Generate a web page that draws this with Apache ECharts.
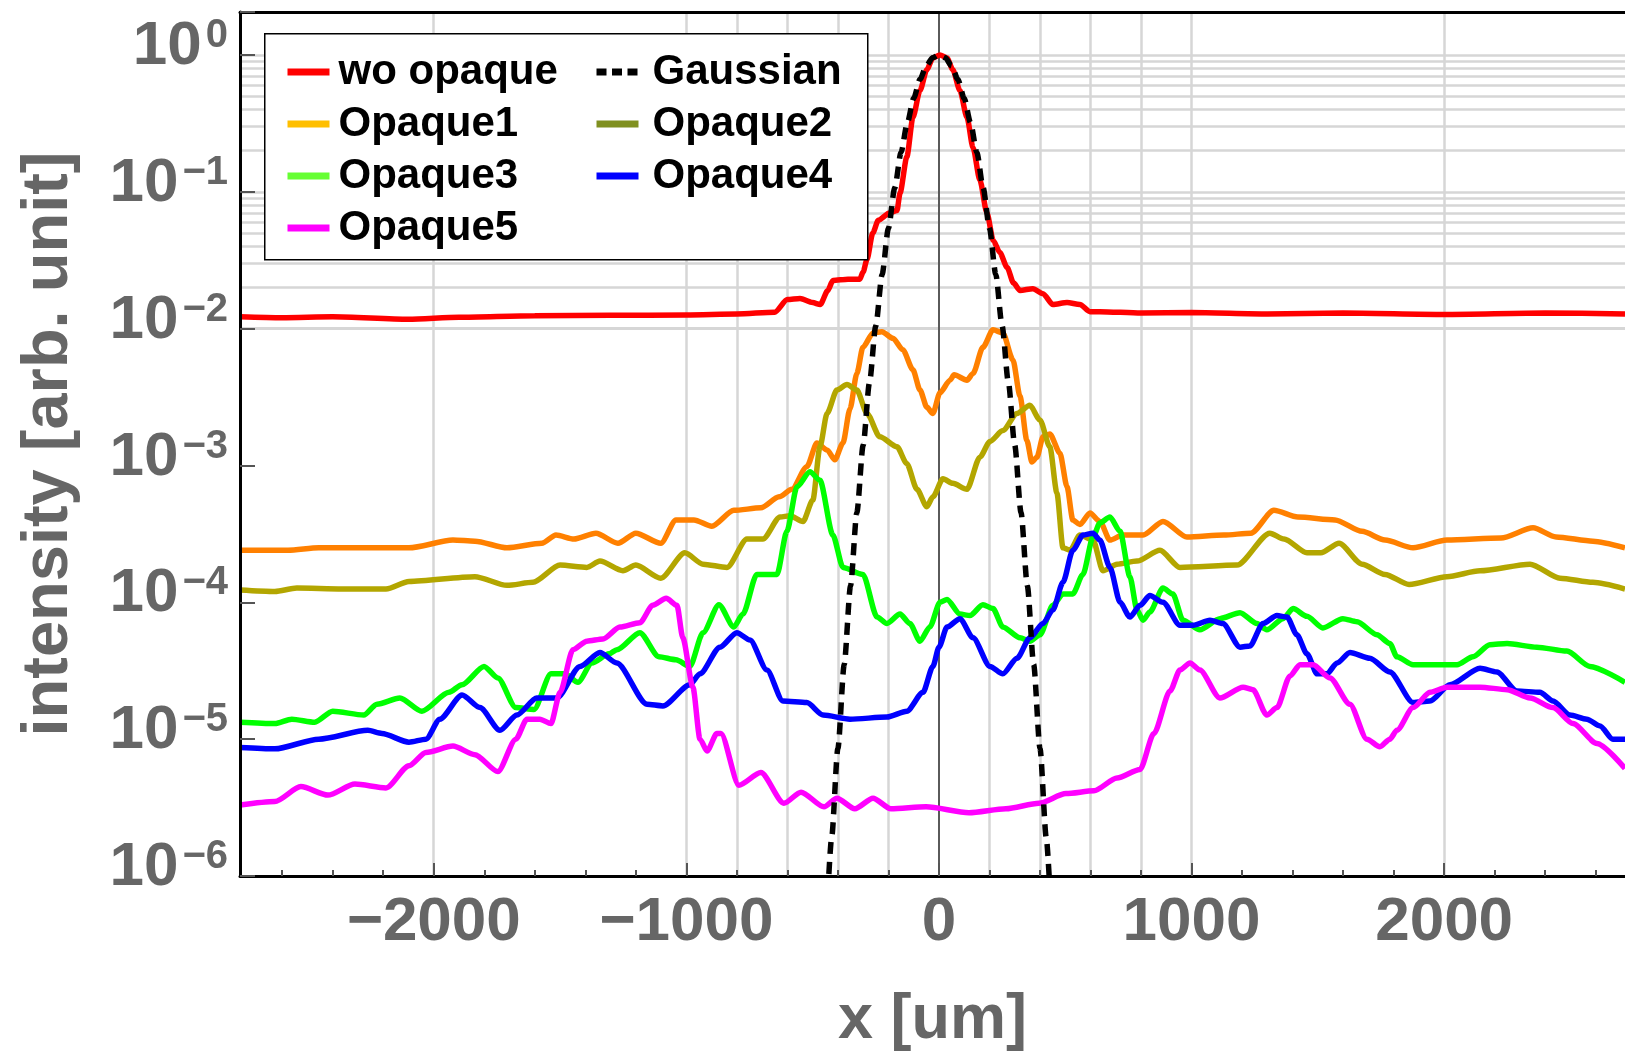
<!DOCTYPE html>
<html lang="en">
<head>
    <meta charset="UTF-8">
    <title>Intensity profiles</title>
    <script src="https://cdn.jsdelivr.net/npm/echarts/dist/echarts.min.js"></script>
    <style>
        body { margin: 0; background: #fff; }
        #chart { width: 1625px; height: 1057px; }
    </style>
</head>
<body>
    <div id="chart"></div>

    <script>
        // axis ranges and ticks
        const xRange = [-2767, 2716];
        const yRange = [1e-6, 2.06];
        const xMajorTicks = [-2000, -1000, 0, 1000, 2000];
        const xMinorTicks = [-2600, -2400, -2200, -2000, -1800, -1600, -1400, -1200, -1000, -800, -600, -400, -200,
            0, 200, 400, 600, 800, 1000, 1200, 1400, 1600, 1800, 2000, 2200, 2400, 2600];
        const xGridLines = [-2000, -1000, -800, -600, -400, -200, 200, 400, 600, 800, 1000, 2000];
        const yGridDecades = [1e-5, 1e-4, 1e-3, 1e-2, 1e-1];
        const yGridMantissas = [1, 2, 3, 4, 5, 6, 7, 8, 9];

        // [x (um), intensity]
        const woOpaque = [[-2767, 0.0122], [-2600, 0.0120], [-2400, 0.0122], [-2100, 0.0117], [-1900, 0.0121],
            [-1600, 0.0124], [-1300, 0.0125], [-1000, 0.0126], [-800, 0.0128], [-650, 0.0132], [-600, 0.0163],
            [-550, 0.0166], [-500, 0.0155], [-470, 0.015], [-440, 0.019], [-420, 0.0225], [-360, 0.023],
            [-313, 0.023], [-300, 0.026], [-285, 0.032], [-262, 0.05], [-240, 0.062], [-196, 0.07], [-166, 0.073],
            [-154, 0.098], [-127, 0.18], [-103, 0.35], [-75, 0.55], [-48, 0.78], [-24, 0.95], [4, 1.0], [32, 0.95],
            [55, 0.78], [83, 0.55], [111, 0.35], [135, 0.21], [162, 0.122], [190, 0.07], [215, 0.044], [241, 0.036],
            [270, 0.028], [295, 0.0216], [321, 0.019], [372, 0.0196], [412, 0.018], [451, 0.015], [507, 0.0155],
            [558, 0.015], [598, 0.0133], [637, 0.0133], [800, 0.013], [1000, 0.0131], [1300, 0.0128],
            [1600, 0.013], [2000, 0.0127], [2400, 0.013], [2716, 0.0128]];

        const opaque1 = [[-2767, 2.4e-4], [-2577, 2.4e-4], [-2455, 2.5e-4], [-2098, 2.5e-4], [-1924, 2.85e-4],
            [-1837, 2.8e-4], [-1710, 2.5e-4], [-1572, 2.7e-4], [-1516, 3.1e-4], [-1445, 2.9e-4], [-1358, 3.2e-4],
            [-1271, 2.7e-4], [-1200, 3.2e-4], [-1101, 2.7e-4], [-1041, 4.0e-4], [-970, 4.0e-4], [-899, 3.6e-4],
            [-812, 4.7e-4], [-705, 4.9e-4], [-633, 5.9e-4], [-582, 6.7e-4], [-523, 9.8e-4], [-483, 1.46e-3],
            [-443, 1.3e-3], [-412, 1.1e-3], [-380, 1.46e-3], [-352, 2.6e-3], [-325, 4.7e-3], [-301, 7.3e-3],
            [-261, 9.3e-3], [-226, 9.5e-3], [-182, 8.5e-3], [-143, 7.0e-3], [-103, 5.0e-3], [-75, 3.56e-3],
            [-48, 2.67e-3], [-24, 2.4e-3], [4, 3.4e-3], [44, 4.2e-3], [60, 4.6e-3], [111, 4.2e-3], [135, 4.7e-3],
            [174, 7.3e-3], [214, 9.8e-3], [253, 9.3e-3], [293, 5.9e-3], [321, 3.2e-3], [348, 1.53e-3],
            [368, 1.06e-3], [388, 1.15e-3], [412, 1.62e-3], [439, 1.7e-3], [479, 1.23e-3], [507, 7.0e-4],
            [530, 4.0e-4], [558, 3.7e-4], [598, 4.5e-4], [637, 3.9e-4], [677, 2.85e-4], [728, 3.1e-4],
            [808, 3.1e-4], [887, 3.9e-4], [982, 3.0e-4], [1128, 3.1e-4], [1235, 3.2e-4], [1326, 4.7e-4],
            [1421, 4.2e-4], [1568, 4.0e-4], [1675, 3.3e-4], [1766, 2.85e-4], [1877, 2.5e-4], [2011, 2.85e-4],
            [2225, 2.95e-4], [2352, 3.5e-4], [2443, 3.0e-4], [2589, 2.8e-4], [2716, 2.5e-4]];

        const opaque2 = [[-2767, 1.23e-4], [-2629, 1.2e-4], [-2542, 1.27e-4], [-2364, 1.25e-4], [-2189, 1.25e-4],
            [-2098, 1.42e-4], [-1837, 1.54e-4], [-1710, 1.33e-4], [-1607, 1.4e-4], [-1500, 1.87e-4],
            [-1394, 1.8e-4], [-1342, 2.0e-4], [-1251, 1.7e-4], [-1200, 1.87e-4], [-1101, 1.5e-4], [-1006, 2.3e-4],
            [-934, 1.9e-4], [-839, 1.8e-4], [-760, 2.9e-4], [-697, 2.9e-4], [-629, 4.2e-4], [-590, 4.3e-4],
            [-538, 3.9e-4], [-499, 5.6e-4], [-471, 1.37e-3], [-443, 2.4e-3], [-404, 3.56e-3], [-364, 3.9e-3],
            [-325, 3.56e-3], [-285, 2.4e-3], [-234, 1.62e-3], [-166, 1.37e-3], [-127, 1.03e-3], [-87, 6.7e-4],
            [-48, 5.0e-4], [-24, 5.9e-4], [16, 8.0e-4], [55, 7.4e-4], [111, 6.7e-4], [162, 1.15e-3],
            [202, 1.5e-3], [253, 1.8e-3], [309, 2.4e-3], [360, 2.75e-3], [400, 2.15e-3], [439, 1.37e-3],
            [467, 6.3e-4], [491, 2.5e-4], [519, 2.4e-4], [558, 3.1e-4], [610, 2.85e-4], [649, 1.7e-4],
            [705, 1.9e-4], [784, 2.0e-4], [875, 2.4e-4], [954, 1.8e-4], [1180, 1.87e-4], [1310, 3.2e-4],
            [1366, 2.9e-4], [1457, 2.3e-4], [1512, 2.3e-4], [1584, 2.7e-4], [1675, 1.9e-4], [1766, 1.6e-4],
            [1861, 1.35e-4], [2011, 1.54e-4], [2142, 1.7e-4], [2340, 1.9e-4], [2459, 1.5e-4], [2589, 1.4e-4],
            [2716, 1.25e-4]];

        const opaque3 = [[-2767, 1.33e-5], [-2629, 1.3e-5], [-2562, 1.4e-5], [-2471, 1.33e-5], [-2400, 1.6e-5],
            [-2277, 1.5e-5], [-2225, 1.8e-5], [-2134, 2.0e-5], [-2047, 1.6e-5], [-1940, 2.2e-5], [-1888, 2.5e-5],
            [-1801, 3.4e-5], [-1746, 2.8e-5], [-1675, 1.7e-5], [-1603, 1.65e-5], [-1536, 3.0e-5], [-1481, 3.0e-5],
            [-1429, 2.6e-5], [-1374, 3.6e-5], [-1306, 4.2e-5], [-1275, 4.5e-5], [-1184, 6.0e-5], [-1109, 4.0e-5],
            [-1041, 3.8e-5], [-986, 3.4e-5], [-934, 6.0e-5], [-871, 9.6e-5], [-812, 6.6e-5], [-776, 8.2e-5],
            [-721, 1.6e-4], [-641, 1.6e-4], [-602, 3.3e-4], [-562, 7.0e-4], [-511, 9.0e-4], [-471, 7.8e-4],
            [-420, 3.1e-4], [-380, 1.8e-4], [-301, 1.6e-4], [-245, 7.8e-5], [-206, 7.0e-5], [-154, 8.2e-5],
            [-115, 7.0e-5], [-75, 5.2e-5], [-36, 6.6e-5], [4, 1.0e-4], [32, 1.05e-4], [83, 8.2e-5], [123, 8.0e-5],
            [174, 9.6e-5], [214, 9.0e-5], [253, 6.6e-5], [321, 5.5e-5], [360, 5.2e-5], [400, 5.8e-5],
            [451, 9.5e-5], [491, 1.15e-4], [530, 1.15e-4], [570, 1.6e-4], [610, 3.0e-4], [637, 3.8e-4],
            [677, 4.2e-4], [717, 3.3e-4], [756, 1.54e-4], [784, 8.8e-5], [808, 7.4e-5], [835, 8.5e-5],
            [887, 1.27e-4], [926, 1.15e-4], [966, 7.4e-5], [1033, 6.3e-5], [1112, 7.6e-5], [1192, 8.4e-5],
            [1259, 7.0e-5], [1298, 6.3e-5], [1362, 7.6e-5], [1402, 9.0e-5], [1457, 7.9e-5], [1520, 6.5e-5],
            [1599, 7.6e-5], [1655, 7.2e-5], [1734, 5.8e-5], [1785, 5.0e-5], [1813, 4.0e-5], [1877, 3.5e-5],
            [2051, 3.5e-5], [2114, 4.0e-5], [2181, 4.9e-5], [2249, 5.0e-5], [2367, 4.7e-5], [2486, 4.4e-5],
            [2577, 3.4e-5], [2716, 2.6e-5]];

        const opaque4 = [[-2767, 8.7e-6], [-2629, 8.5e-6], [-2455, 1.0e-5], [-2261, 1.16e-5], [-2205, 1.1e-5],
            [-2098, 9.5e-6], [-2031, 1.0e-5], [-1976, 1.4e-5], [-1888, 2.1e-5], [-1817, 1.7e-5], [-1738, 1.16e-5],
            [-1671, 1.5e-5], [-1592, 2.0e-5], [-1512, 2.0e-5], [-1421, 3.4e-5], [-1342, 4.3e-5], [-1275, 3.6e-5],
            [-1156, 1.8e-5], [-1093, 1.75e-5], [-986, 2.5e-5], [-946, 3.0e-5], [-867, 4.7e-5], [-800, 6.0e-5],
            [-748, 5.3e-5], [-681, 3.2e-5], [-618, 1.9e-5], [-523, 1.85e-5], [-459, 1.5e-5], [-352, 1.4e-5],
            [-206, 1.45e-5], [-127, 1.6e-5], [-63, 2.2e-5], [-24, 3.4e-5], [0, 4.7e-5], [32, 6.6e-5],
            [83, 7.6e-5], [135, 5.5e-5], [202, 3.4e-5], [253, 3.0e-5], [309, 3.9e-5], [360, 5.5e-5],
            [412, 7.0e-5], [451, 8.8e-5], [491, 1.4e-4], [530, 2.4e-4], [570, 3.1e-4], [610, 3.2e-4],
            [637, 2.85e-4], [677, 1.8e-4], [717, 1.0e-4], [756, 7.8e-5], [796, 9.5e-5], [835, 1.12e-4],
            [887, 1.0e-4], [954, 6.8e-5], [1006, 6.8e-5], [1073, 7.4e-5], [1124, 7.0e-5], [1192, 4.7e-5],
            [1231, 4.8e-5], [1283, 7.0e-5], [1338, 8.0e-5], [1378, 7.8e-5], [1417, 5.8e-5], [1457, 4.2e-5],
            [1497, 3.0e-5], [1536, 3.0e-5], [1576, 3.6e-5], [1627, 4.3e-5], [1706, 3.9e-5], [1785, 3.1e-5],
            [1877, 1.85e-5], [1944, 1.9e-5], [2023, 2.5e-5], [2142, 3.3e-5], [2209, 3.1e-5], [2288, 2.25e-5],
            [2379, 2.2e-5], [2431, 1.9e-5], [2498, 1.5e-5], [2565, 1.4e-5], [2617, 1.25e-5], [2668, 1.0e-5],
            [2716, 1.0e-5]];

        const opaque5 = [[-2767, 3.3e-6], [-2629, 3.5e-6], [-2526, 4.5e-6], [-2419, 3.9e-6], [-2312, 4.7e-6],
            [-2189, 4.4e-6], [-2098, 6.4e-6], [-2031, 8.0e-6], [-1924, 8.9e-6], [-1837, 7.7e-6], [-1746, 5.8e-6],
            [-1675, 1.0e-5], [-1631, 1.4e-5], [-1580, 1.4e-5], [-1536, 1.3e-5], [-1500, 2.2e-5], [-1449, 4.5e-5],
            [-1394, 5.2e-5], [-1330, 5.4e-5], [-1263, 6.6e-5], [-1184, 7.1e-5], [-1133, 9.5e-5], [-1080, 1.07e-4],
            [-1037, 9.5e-5], [-1014, 5.5e-5], [-974, 2.4e-5], [-946, 1.0e-5], [-918, 8.2e-6], [-879, 1.1e-5],
            [-863, 1.1e-5], [-792, 4.6e-6], [-705, 5.7e-6], [-614, 3.4e-6], [-546, 4.1e-6], [-455, 3.2e-6],
            [-404, 3.7e-6], [-333, 3.1e-6], [-261, 3.7e-6], [-190, 3.1e-6], [-51, 3.2e-6], [119, 2.9e-6],
            [265, 3.1e-6], [396, 3.4e-6], [503, 4.0e-6], [614, 4.2e-6], [705, 5.2e-6], [796, 6.0e-6],
            [851, 1.1e-5], [915, 2.25e-5], [954, 3.2e-5], [994, 3.6e-5], [1033, 3.2e-5], [1112, 2.0e-5],
            [1204, 2.4e-5], [1243, 2.3e-5], [1298, 1.5e-5], [1338, 1.7e-5], [1390, 2.9e-5], [1429, 3.5e-5],
            [1481, 3.5e-5], [1548, 2.8e-5], [1627, 1.8e-5], [1694, 1.0e-5], [1746, 8.8e-6], [1785, 1.0e-5],
            [1813, 1.16e-5], [1877, 1.7e-5], [1944, 2.2e-5], [2011, 2.4e-5], [2142, 2.4e-5], [2249, 2.3e-5],
            [2340, 2.0e-5], [2431, 1.7e-5], [2510, 1.3e-5], [2605, 9.3e-6], [2716, 6.1e-6]];

        const gaussian = [[-440, 7.4e-7], [-425, 1.9e-6], [-400, 8.56e-6], [-375, 3.52e-5], [-350, 1.32e-4],
            [-325, 4.52e-4], [-300, 1.41e-3], [-275, 4.03e-3], [-250, 1.05e-2], [-225, 2.49e-2], [-200, 5.41e-2],
            [-175, 0.107], [-150, 0.194], [-125, 0.32], [-100, 0.482], [-75, 0.663], [-50, 0.833], [-25, 0.955],
            [0, 1.0], [25, 0.955], [50, 0.833], [75, 0.663], [100, 0.482], [125, 0.32], [150, 0.194],
            [175, 0.107], [200, 5.41e-2], [225, 2.49e-2], [250, 1.05e-2], [275, 4.03e-3], [300, 1.41e-3],
            [325, 4.52e-4], [350, 1.32e-4], [375, 3.52e-5], [400, 8.56e-6], [425, 1.9e-6], [440, 7.4e-7]];

        const seriesNames = ['wo opaque', 'Opaque1', 'Opaque2', 'Opaque3', 'Opaque4', 'Opaque5', 'Gaussian'];
        const seriesData = [woOpaque, opaque1, opaque2, opaque3, opaque4, opaque5, gaussian];
        const seriesColors = ['#ff0000', '#ff8000', '#b3a600', '#00ff00', '#0000ff', '#ff00ff', '#000000'];

        const FONT = '"Liberation Sans", Arial, sans-serif';
        const LABEL_GRAY = '#666';
        const GRID_GRAY = '#d6d6d6';

        const yGridLines = [];
        yGridDecades.forEach(d => yGridMantissas.forEach(m => yGridLines.push(m * d)));
        yGridLines.push(1);

        const gridMarks = yGridLines.map(v => ({ yAxis: v }))
            .concat(xGridLines.map(v => ({ xAxis: v })))
            .concat([{ xAxis: 0, lineStyle: { color: '#5a5a5a', width: 2 } }]);

        const series = seriesNames.map((name, i) => {
            const s = {
                name: name,
                type: 'line',
                data: seriesData[i],
                symbol: 'none',
                showSymbol: false,
                smooth: 0.25,
                smoothMonotone: 'x',
                clip: true,
                color: seriesColors[i],
                lineStyle: { width: 5.5, color: seriesColors[i] },
                emphasis: { disabled: true }
            };
            if (name === 'Gaussian') {
                s.lineStyle = { width: 5.5, color: '#000', type: [12, 8] };
                s.z = 3;
            }
            if (i === 0) {
                s.markLine = {
                    silent: true,
                    z: 1,
                    symbol: ['none', 'none'],
                    label: { show: false },
                    lineStyle: { color: GRID_GRAY, width: 2.5, type: 'solid' },
                    animation: false,
                    data: gridMarks
                };
            }
            return s;
        });

        function yLabel(v) {
            const e = Math.log10(v);
            const n = Math.round(e);
            if (Math.abs(e - n) > 1e-6) return '';
            const exp = n < 0 ? '\u2212' + (-n) : String(n);
            return '{b|10}{e|' + exp + '}';
        }

        function xLabel(v) {
            return v < 0 ? '\u2212' + (-v) : String(v);
        }

        const legendText = {
            fontSize: 42, fontWeight: 'bold', color: '#000', fontFamily: FONT,
            lineHeight: 52, padding: [0, 0, 0, 4]
        };
        const legendText2 = Object.assign({}, legendText, { padding: [0, 0, 0, 9] });

        const chart = echarts.init(document.getElementById('chart'));
        chart.setOption({
            animation: false,
            backgroundColor: '#fff',
            textStyle: { fontFamily: FONT },
            grid: { left: 240, right: 0, top: 12, bottom: 181 },
            xAxis: [
                {
                    type: 'value', position: 'bottom', min: xRange[0], max: xRange[1], z: 10,
                    name: 'x [um]', nameLocation: 'middle', nameGap: 113,
                    nameTextStyle: { fontSize: 63, fontWeight: 'bold', color: LABEL_GRAY, fontFamily: FONT },
                    axisLine: { onZero: false, lineStyle: { color: '#000', width: 3 } },
                    axisTick: { inside: true, length: 13, customValues: xMajorTicks, lineStyle: { color: '#555', width: 2 } },
                    axisLabel: { customValues: xMajorTicks, formatter: xLabel, margin: 16, fontSize: 62, fontWeight: 'bold', color: LABEL_GRAY, fontFamily: FONT },
                    splitLine: { show: false }
                },
                {
                    type: 'value', position: 'bottom', min: xRange[0], max: xRange[1], z: 10,
                    axisLine: { show: false, onZero: false },
                    axisTick: { inside: true, length: 6, customValues: xMinorTicks, lineStyle: { color: '#555', width: 2 } },
                    axisLabel: { show: false },
                    splitLine: { show: false }
                },
                {
                    type: 'value', position: 'top', min: xRange[0], max: xRange[1], z: 10,
                    axisLine: { onZero: false, lineStyle: { color: '#000', width: 3 } },
                    axisTick: { show: false },
                    axisLabel: { show: false },
                    splitLine: { show: false }
                }
            ],
            yAxis: {
                type: 'log', logBase: 10, min: yRange[0], max: yRange[1], splitNumber: 6, z: 10,
                name: 'intensity [arb. unit]', nameLocation: 'middle', nameRotate: 90, nameGap: 158,
                nameTextStyle: { fontSize: 65, fontWeight: 'bold', color: LABEL_GRAY, fontFamily: FONT },
                axisLine: { onZero: false, lineStyle: { color: '#000', width: 3 } },
                axisTick: { inside: true, length: 15, lineStyle: { color: '#555', width: 2 } },
                axisLabel: {
                    formatter: yLabel,
                    margin: 12,
                    padding: [0, 0, 16, 0],
                    rich: {
                        b: { fontSize: 62, fontWeight: 'bold', color: LABEL_GRAY, fontFamily: FONT, lineHeight: 62, verticalAlign: 'bottom' },
                        e: { fontSize: 40, fontWeight: 'bold', color: LABEL_GRAY, fontFamily: FONT, lineHeight: 40, verticalAlign: 'top', padding: [0, 0, 30, 4] }
                    }
                },
                splitLine: { show: false },
                minorSplitLine: { show: false }
            },
            graphic: [{
                type: 'rect', left: 264, top: 33, z: 7,
                shape: { width: 603, height: 226 },
                style: { fill: '#fff', stroke: '#000', lineWidth: 1.5 }
            }],
            legend: [
                {
                    orient: 'vertical', left: 284, top: 46, padding: 0, itemGap: 0, z: 8,
                    itemWidth: 42, itemHeight: 14, selectedMode: false,
                    lineStyle: { width: 7 },
                    itemStyle: { opacity: 0 },
                    textStyle: legendText,
                    data: [
                        'wo opaque',
                        { name: 'Opaque1', lineStyle: { color: '#ffbf00', width: 7 } },
                        { name: 'Opaque3', lineStyle: { color: '#66ff33', width: 7 } },
                        'Opaque5'
                    ]
                },
                {
                    orient: 'vertical', left: 593, top: 46, padding: 0, itemGap: 0, z: 8,
                    itemWidth: 42, itemHeight: 14, selectedMode: false,
                    lineStyle: { width: 7 },
                    itemStyle: { opacity: 0 },
                    textStyle: legendText2,
                    data: [
                        { name: 'Gaussian', lineStyle: { color: '#000', width: 7, type: [10, 5.5] } },
                        { name: 'Opaque2', lineStyle: { color: '#809020', width: 7 } },
                        'Opaque4'
                    ]
                }
            ],
            series: series
        });
    </script>
</body>
</html>
